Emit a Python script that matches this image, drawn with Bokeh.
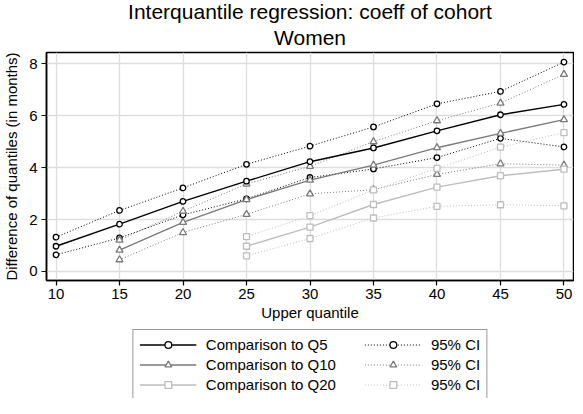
from bokeh.plotting import figure
from bokeh.layouts import column
from bokeh.models import (Range1d, FixedTicker, Legend, LegendItem, Title)
from bokeh.embed import file_html
from bokeh.resources import INLINE

# ---------------- data ----------------
x_q5 = [10, 15, 20, 25, 30, 35, 40, 45, 50]
q5 = [0.97, 1.82, 2.70, 3.48, 4.23, 4.76, 5.42, 6.04, 6.44]
q5_hi = [1.32, 2.35, 3.22, 4.13, 4.83, 5.57, 6.46, 6.94, 8.07]
q5_lo = [0.64, 1.29, 2.18, 2.80, 3.62, 3.95, 4.39, 5.13, 4.80]

x_q10 = [15, 20, 25, 30, 35, 40, 45, 50]
q10 = [0.82, 1.89, 2.77, 3.52, 4.10, 4.77, 5.32, 5.85]
q10_hi = [1.21, 2.32, 3.37, 4.05, 5.00, 5.81, 6.49, 7.60]
q10_lo = [0.45, 1.50, 2.20, 2.99, 3.15, 3.74, 4.15, 4.10]

x_q20 = [25, 30, 35, 40, 45, 50]
q20 = [0.97, 1.71, 2.58, 3.25, 3.69, 3.94]
q20_hi = [1.34, 2.15, 3.14, 3.97, 4.79, 5.35]
q20_lo = [0.60, 1.27, 2.06, 2.51, 2.57, 2.53]

x_ticks = [10, 15, 20, 25, 30, 35, 40, 45, 50]
y_ticks = [0, 2, 4, 6, 8]

title_main = "Interquantile regression: coeff of cohort"
title_sub = "Women"
x_label = "Upper quantile"
y_label = "Difference of quantiles (in months)"
labels_est = ["Comparison to Q5", "Comparison to Q10", "Comparison to Q20"]
label_ci = "95% CI"

FONT = "Liberation Sans"
C5, C10, C20 = "#000000", "#7a7a7a", "#bdbdbd"
W = 574

p = figure(width=W, height=326, output_backend="svg", toolbar_location=None,
           x_range=Range1d(9.25, 50.75), y_range=Range1d(-0.35, 8.44),
           min_border_left=43, min_border_right=1, min_border_top=45,
           min_border_bottom=46, background_fill_color="white",
           border_fill_color="white")
p.title = None

t_sub = Title(text=title_sub, align="center", text_font=FONT,
              text_font_size="21px", text_font_style="normal",
              text_color="black", standoff=7)
t_main = Title(text=title_main, align="center", text_font=FONT,
               text_font_size="21px", text_font_style="normal",
               text_color="black", standoff=-5)
p.add_layout(t_sub, "above")
p.add_layout(t_main, "above")

p.outline_line_color = "black"
p.outline_line_width = 1.5

for ax in (p.xaxis[0], p.yaxis[0]):
    ax.axis_line_color = "black"
    ax.axis_line_width = 1.5
    ax.major_tick_in = 0
    ax.major_tick_out = 5
    ax.major_tick_line_color = "black"
    ax.major_tick_line_width = 1.2
    ax.minor_tick_line_color = None
    ax.major_label_text_font = FONT
    ax.major_label_text_font_size = "15px"
    ax.major_label_text_color = "black"
    ax.axis_label_text_font = FONT
    ax.axis_label_text_font_size = "15px"
    ax.axis_label_text_font_style = "normal"
    ax.axis_label_text_color = "black"

p.xaxis.ticker = FixedTicker(ticks=x_ticks)
p.yaxis.ticker = FixedTicker(ticks=y_ticks)
p.xaxis.axis_label = x_label
p.yaxis.axis_label = y_label
p.xaxis.major_label_standoff = 3
p.xaxis.axis_label_standoff = 2
p.yaxis.major_label_standoff = 4
p.yaxis.axis_label_standoff = 6

p.xgrid.ticker = FixedTicker(ticks=x_ticks)
p.ygrid.ticker = FixedTicker(ticks=y_ticks)
p.xgrid.grid_line_color = "#dddddd"
p.ygrid.grid_line_color = "#dddddd"
p.xgrid.grid_line_width = 1.3
p.ygrid.grid_line_width = 1.6


def series(fig, xs, ys, color, marker, size, dotted):
    dash = "1 2" if dotted else "solid"
    lw = 1.0 if dotted else 1.4
    ln = fig.line(xs, ys, line_color=color, line_width=lw, line_dash=dash)
    sc = fig.scatter(xs, ys, marker=marker, size=size, line_color=color,
                     fill_color="white", line_width=1.3)
    return [ln, sc]


STY = [(C5, "circle", 5.5), (C10, "triangle", 7), (C20, "square", 6)]
for (xs, hi, lo), (c, m, s) in zip([(x_q5, q5_hi, q5_lo),
                                    (x_q10, q10_hi, q10_lo),
                                    (x_q20, q20_hi, q20_lo)], STY):
    series(p, xs, hi, c, m, s, True)
    series(p, xs, lo, c, m, s, True)
for (xs, ys), (c, m, s) in reversed(list(zip([(x_q5, q5), (x_q10, q10),
                                              (x_q20, q20)], STY))):
    series(p, xs, ys, c, m, s, False)

# ---------------- legend (separate strip below the plot) ----------------
lg = figure(width=W, height=72, output_backend="svg", toolbar_location=None,
            x_axis_type=None, y_axis_type=None,
            x_range=Range1d(0, 1), y_range=Range1d(0, 1),
            min_border_left=43, min_border_right=1, min_border_top=0,
            min_border_bottom=0, outline_line_color=None,
            background_fill_color="white", border_fill_color="white")
lg.xgrid.visible = False
lg.ygrid.visible = False

# key glyphs: off-range points, so that only the legend shows them
est_r = [series(lg, [-5, -4], [-5, -4], c, m, s * 0.8, False) for (c, m, s) in STY]
ci_r = [series(lg, [-5, -4], [-5, -4], c, m, s * 0.8, True) for (c, m, s) in STY]

pad = "\u00a0" * 6
items = [LegendItem(label=l + pad, renderers=r) for l, r in zip(labels_est, est_r)]
items += [LegendItem(label=label_ci, renderers=r) for r in ci_r]
legend = Legend(
    items=items, ncols=2, location="top_center",
    label_text_font=FONT, label_text_font_size="15px",
    label_text_color="black", glyph_width=57, glyph_height=17,
    label_standoff=10, spacing=3, padding=6, margin=3,
    label_height=17, label_width=20,
    border_line_color="#333333", border_line_width=1.5,
    background_fill_color="white", background_fill_alpha=1.0)
lg.add_layout(legend, "center")

layout = column(p, lg, spacing=0)
open("out.html", "w").write(file_html(layout, INLINE))
